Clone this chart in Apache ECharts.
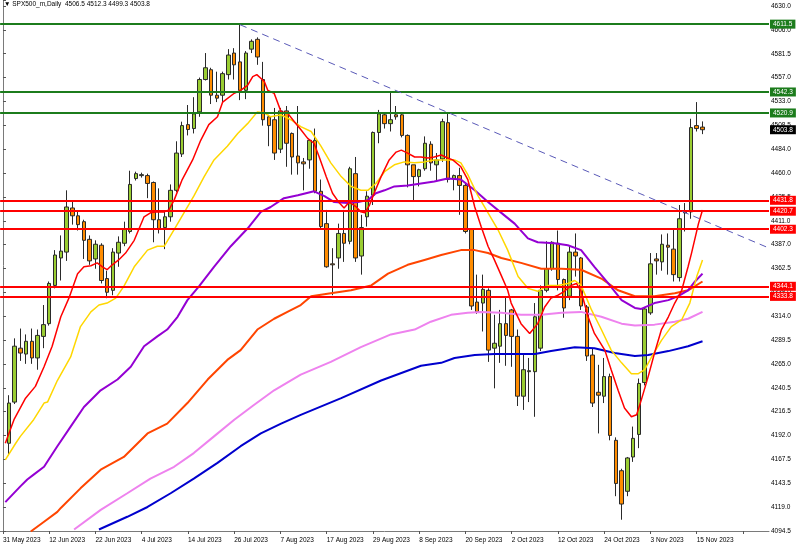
<!DOCTYPE html>
<html><head><meta charset="utf-8">
<script src="https://cdn.jsdelivr.net/npm/echarts@6/dist/echarts.min.js"></script>
<style>html,body{margin:0;padding:0;background:#fff}#c{width:802px;height:558px}</style>
</head><body><div id="c"></div>
<script>
// ---------- data ----------
const symbolName = 'SPX500_m,Daily';
const monthDays = [
  ['May', [31]],
  ['Jun', [1,2,5,6,7,8,9,12,13,14,15,16,19,20,21,22,23,26,27,28,29,30]],
  ['Jul', [3,4,5,6,7,10,11,12,13,14,17,18,19,20,21,24,25,26,27,28,31]],
  ['Aug', [1,2,3,4,7,8,9,10,11,14,15,16,17,18,21,22,23,24,25,28,29,30,31]],
  ['Sep', [1,4,5,6,7,8,11,12,13,14,15,18,19,20,21,22,25,26,27,28,29]],
  ['Oct', [2,3,4,5,6,9,10,11,12,13,16,17,18,19,20,23,24,25,26,27,30,31]],
  ['Nov', [1,2,3,6,7,8,9,10,13,14,15,16]]
];
const futureSlots = 11;

const open = [null,
 4184,4226,4281,4275,4288,4271,4293,4306,4345,4373,4379,4424,4416,4410,4392,4372,4386,4352,4340,4378,4388,4400,
 4454,4457,4457,4450,4412,4404,4415,4442,4479,4509,4505,4522,4555,4565,4539,4539,4560,4582,4573,4544,4586,
 4596,4555,4517,4514,4484,4523,4500,4477,4471,4473,4493,4441,4408,4367,4373,4398,4390,4459,4375,4415,4437,4501,4519,
 4510,4519,4519,4498,4468,4456,4464,4489,4468,4474,4511,4454,4457,4447,4402,4328,4327,4340,4281,4283,4306,
 4320,4293,4232,4257,4257,4281,4340,4362,4388,4351,4334,4379,4373,4323,4274,4236,4232,4252,4187,4156,4135,4170,
 4193,4246,4317,4372,4369,4386,4382,4353,4420,4420,4508,4506.5];
const close = [null,
 4225,4283,4276,4288,4271,4294,4305,4347,4376,4380,4425,4416,4407,4391,4370,4387,4350,4338,4379,4389,4402,4448,
 4459,4458,4449,4412,4403,4415,4442,4480,4508,4504,4520,4555,4567,4539,4536,4561,4580,4570,4544,4582,4594,
 4578,4514,4508,4480,4523,4490,4476,4470,4469,4493,4441,4405,4364,4366,4398,4388,4464,4373,4404,4436,4501,4520,4510,
 4514,4517,4498,4468,4456,4463,4490,4470,4473,4512,4453,4457,4447,4400,4324,4318,4341,4279,4286,4306,4294,
 4293,4232,4259,4258,4313,4340,4362,4389,4351,4322,4379,4375,4324,4273,4225,4233,4252,4192,4143,4122,4169,4189,
 4245,4321,4367,4370,4387,4384,4356,4413,4419,4506,4505,4503.8];
const low = [null,
 4173,4224,4268,4265,4265,4259,4281,4304,4342,4350,4370,4407,4401,4372,4366,4362,4347,4332,4335,4364,4385,4398,
 4452,4455,4434,4389,4398,4382,4410,4440,4476,4498,4500,4517,4554,4530,4532,4531,4555,4555,4534,4535,4582,
 4570,4508,4487,4473,4480,4466,4458,4458,4442,4464,4439,4403,4363,4335,4362,4369,4387,4369,4356,4405,4427,4490,4505,
 4502,4514,4496,4445,4432,4446,4462,4462,4451,4471,4450,4442,4417,4398,4320,4316,4298,4267,4240,4266,4263,
 4262,4222,4218,4226,4211,4278,4338,4360,4340,4312,4330,4354,4320,4268,4221,4194,4225,4187,4130,4106,4130,4165,
 4179,4243,4315,4356,4360,4356,4349,4349,4400,4413,4502,4499.3];
const high = [null,
 4233,4291,4301,4295,4301,4300,4325,4349,4381,4396,4442,4432,4421,4412,4396,4391,4388,4360,4383,4395,4410,4462,
 4461,4460,4459,4451,4444,4420,4448,4492,4512,4529,4537,4557,4582,4567,4563,4563,4586,4587,4611,4584,4596,
 4598,4573,4519,4526,4526,4528,4501,4528,4475,4494,4505,4453,4422,4383,4408,4422,4466,4476,4417,4441,4502,4524,4521,
 4543,4528,4520,4499,4468,4464,4497,4492,4480,4515,4520,4458,4465,4450,4403,4356,4356,4342,4315,4320,4334,
 4321,4300,4276,4271,4327,4345,4390,4390,4401,4352,4386,4398,4374,4325,4281,4264,4271,4255,4190,4158,4170,4201,
 4250,4323,4378,4378,4397,4398,4403,4427,4429,4515,4532,4512.3];

// moving averages: [bar index, value]
const maRed = [[0.4,4184],[1.9,4208],[3.9,4230],[5.6,4242],[7.1,4262],[8.5,4283],[10,4313],[11.4,4332],[12.9,4357],[14,4364],[15.2,4365],[16.3,4368],[17.2,4364],[18,4361],[18.9,4366],[20,4371],[21.2,4378],[22.7,4391],[24.4,4415],[25.5,4419],[26.7,4420],[27.9,4420],[28.7,4422],[29.6,4432],[31,4453],[32.8,4473],[34.2,4493],[35.6,4509],[37.1,4517],[38,4532],[40,4541],[41.1,4544],[42.3,4549],[43.2,4558],[43.9,4560],[45.2,4553],[45.8,4544],[46.9,4541],[48.1,4522],[49.2,4521],[50.4,4512],[51.5,4504],[52.7,4495],[53.8,4490],[54.7,4476],[55.9,4456],[57,4439],[58.2,4429],[59,4424],[59.9,4430],[61.1,4425],[61.9,4420],[62.6,4419],[63.4,4427],[64.2,4439],[65.4,4456],[66.8,4473],[68,4481],[68.9,4483],[70,4480],[71.2,4476],[72.3,4476],[73.5,4475],[74.6,4476],[75.8,4478],[76.9,4475],[77.8,4473],[79.2,4466],[80.4,4453],[81.6,4425],[82.7,4405],[83.9,4385],[85,4371],[86.2,4355],[87.3,4340],[87.9,4327],[89.6,4306],[91.1,4296],[92.5,4306],[93.7,4323],[94.8,4332],[96,4335],[97.1,4339],[98.3,4345],[99.2,4347],[100,4339],[101.2,4313],[102.3,4296],[104.1,4279],[105.2,4259],[106.4,4238],[107.5,4220],[108.7,4211],[109.6,4213],[110.4,4228],[111.6,4252],[112.7,4276],[113.9,4300],[115.1,4313],[116.2,4327],[117.4,4340],[118.5,4364],[119.1,4378],[120.3,4408],[121,4422]];
const maGold = [[0.4,4167],[2.2,4184],[3,4191],[5.3,4208],[7.1,4225],[7.7,4226],[9.4,4248],[11.7,4272],[13.4,4303],[15.2,4318],[16.6,4325],[18,4327],[19.5,4332],[20.9,4344],[22.7,4364],[25,4381],[26.7,4385],[27.9,4385],[29.6,4402],[31.3,4419],[33,4436],[34.8,4456],[36.5,4473],[38.8,4487],[40.6,4500],[42.3,4510],[44,4522],[45.2,4521],[46.3,4517],[48.1,4519],[49.8,4514],[51.5,4507],[53.3,4502],[55,4487],[56.7,4470],[58.5,4456],[60.2,4446],[61.9,4442],[63.1,4442],[64.5,4449],[66,4461],[67.7,4468],[69.4,4471],[71.2,4470],[72.9,4471],[74.6,4473],[76.4,4473],[78.1,4473],[79.2,4470],[80.4,4458],[82.1,4437],[83.9,4419],[85.6,4402],[87.3,4381],[89.1,4354],[90.8,4342],[92.5,4339],[94.3,4345],[96,4345],[97.7,4347],[98.9,4350],[100,4345],[101.8,4320],[103.5,4300],[105.2,4279],[107,4266],[108.7,4255],[109.9,4255],[111,4259],[112.2,4272],[113.9,4289],[115.6,4303],[117.4,4310],[118.8,4327],[120,4354],[121,4371]];
const maPurple = [[0.4,4124],[3,4140],[4.2,4147],[5.3,4152],[7.1,4160],[9.4,4181],[11.7,4201],[14,4221],[16.9,4238],[19.8,4249],[22.1,4262],[24.4,4283],[26.7,4293],[28.4,4300],[30.2,4313],[31.9,4330],[33.9,4344],[36.5,4364],[39.4,4385],[42.3,4403],[44.6,4420],[46.3,4425],[48.6,4434],[51,4437],[53.8,4441],[55.6,4436],[57.3,4430],[59.6,4429],[61.4,4430],[63.1,4432],[64.5,4439],[66,4442],[67.7,4446],[70,4447],[72.3,4449],[74.6,4451],[76.9,4454],[79.2,4453],[81.6,4442],[83.9,4430],[86.2,4419],[88.5,4408],[90.8,4393],[92.5,4389],[95.4,4388],[97.7,4386],[100,4381],[102.3,4364],[104.7,4347],[107,4330],[109.3,4322],[110.4,4321],[112.7,4327],[115.1,4330],[116.8,4334],[118.5,4340],[119.7,4349],[121,4357]];
const maOrangeRed = [[4.8,4094],[7.1,4104],[9.4,4114],[10,4118],[13.4,4138],[16.9,4157],[20.9,4170],[25,4194],[28.4,4204],[31.9,4225],[35.4,4249],[38.8,4269],[41.1,4279],[44,4300],[46.9,4311],[49.2,4318],[51.5,4325],[53.3,4334],[56.7,4337],[60.2,4340],[63.7,4345],[66.6,4357],[70,4366],[72.9,4371],[75.8,4376],[79.2,4381],[81.6,4381],[83.9,4378],[86.2,4373],[89.6,4368],[93.1,4362],[96.6,4362],[100,4361],[103.5,4352],[106.4,4340],[109.3,4334],[112.7,4334],[116.2,4337],[118.5,4340],[121,4349]];
const maViolet = [[12.3,4096],[16.9,4116],[21.5,4133],[25.5,4148],[29.6,4160],[33,4174],[36.5,4191],[40,4208],[43.4,4223],[46.9,4238],[51.5,4254],[56.7,4267],[61.9,4282],[67.1,4295],[71.2,4300],[74,4308],[77.5,4315],[80.4,4317],[82.7,4318],[86.2,4317],[89.6,4315],[93.1,4315],[96.6,4317],[100,4318],[103.5,4313],[107,4306],[109.3,4304],[112.7,4305],[116.2,4308],[118.5,4311],[121,4318]];
const maBlue = [[16.6,4096],[21.5,4109],[25,4119],[29,4133],[33,4148],[37.1,4164],[41.1,4181],[44.6,4194],[48.1,4204],[51.5,4213],[58.5,4230],[65.4,4248],[72.3,4263],[75.8,4266],[78.1,4271],[81.6,4274],[85,4275],[88.5,4275],[92,4275],[94.8,4278],[98.9,4282],[102.3,4281],[105.8,4276],[109.3,4273],[111.6,4274],[115.1,4278],[118.5,4283],[121,4288]];

const trendLine = [[41, 4610.9], [132.5, 4383.1]];
const greenLevels = [4611.5, 4542.3, 4520.9];
const redLevels = [4431.8, 4420.7, 4402.3, 4344.1, 4333.8];

const yTickLabels = ['4094.5','4119.0','4143.5','4167.5','4192.0','4216.5','4240.5','4265.0','4289.5','4314.0','4338.0','4362.5','4387.0','4411.0','4435.5','4460.0','4484.0','4508.5','4533.0','4557.0','4581.5','4606.0','4630.0'];
const yMin = 4094.5, yTop = 4630.0, yMax = 4636.12;

// ---------- build ----------
const dates = [];
monthDays.forEach(([m, ds]) => ds.forEach(d => dates.push(d + ' ' + m + ' 2023')));
const N = dates.length + futureSlots;
const cats = dates.slice();
for (let k = 0; k < futureSlots; k++) cats.push('f' + k);
const ohlc = open.map((o, i) => o == null ? '-' : [o, close[i], low[i], high[i]]);
const last = open.length - 1;
const yStep = (yTop - yMin) / (yTickLabels.length - 1);
const FONT = 'Liberation Sans, Arial, DejaVu Sans, sans-serif';

function maSeries(name, data, color, width) {
  return { name, type: 'line', xAxisIndex: 1, data, showSymbol: false, symbol: 'none', silent: true,
    lineStyle: { color, width }, z: 4, animation: false };
}
const levelData = [];
greenLevels.forEach(v => levelData.push({ yAxis: v, lineStyle: { color: '#1c7c1c', width: 2, type: 'solid' },
  label: { backgroundColor: '#1c7c1c' } }));
redLevels.forEach(v => levelData.push({ yAxis: v, lineStyle: { color: '#ff0000', width: 2, type: 'solid' },
  label: { backgroundColor: '#ff0000' } }));
levelData.push({ yAxis: close[last], lineStyle: { color: 'rgba(0,0,0,0)', width: 0 },
  label: { backgroundColor: '#000000' } });

const chart = echarts.init(document.getElementById('c'), null, { renderer: 'canvas' });
chart.setOption({
  animation: false,
  backgroundColor: '#ffffff',
  title: {
    text: '\u25BC ' + symbolName + '  ' + [open[last], high[last], low[last], close[last]].map(v => v.toFixed(1)).join(' '),
    left: 4, top: 1, padding: 0,
    textStyle: { fontSize: 6.5, fontWeight: 'normal', color: '#000', fontFamily: FONT }
  },
  grid: { left: 0, right: 33, top: 0, bottom: 27, containLabel: false },
  xAxis: [{
    type: 'category', data: cats, boundaryGap: true,
    axisLine: { show: true, lineStyle: { color: '#7a7a7a', width: 1 } },
    axisTick: { show: true, interval: 7, alignWithLabel: true, length: 3, lineStyle: { color: '#555' } },
    axisLabel: { interval: 7, align: 'left', margin: 6, fontSize: 6.5, color: '#000', fontFamily: FONT,
      formatter: (v, i) => (i < dates.length ? v : '') },
    splitLine: { show: false }
  }, {
    type: 'value', min: -0.5, max: N - 0.5, show: false, gridIndex: 0
  }],
  yAxis: {
    type: 'value', position: 'right', min: yMin, max: yMax, interval: yStep, scale: true,
    axisLine: { show: true, lineStyle: { color: '#7a7a7a', width: 1 } },
    axisTick: { show: true, length: 3, lineStyle: { color: '#555' } },
    axisLabel: { margin: 2, fontSize: 6.5, color: '#000', fontFamily: FONT,
      formatter: v => { const k = (v - yMin) / yStep; const r = Math.round(k);
        return Math.abs(k - r) < 0.02 && yTickLabels[r] ? yTickLabels[r] : ''; } },
    splitLine: { show: false }
  },
  series: [
    { name: 'candles', type: 'candlestick', data: ohlc, barWidth: 4, z: 3,
      itemStyle: { color: '#9acd32', color0: '#ff8c00', borderColor: '#2a2a2a', borderColor0: '#2a2a2a', borderWidth: 1 } },
    maSeries('MA200', maBlue, '#0000cd', 2),
    maSeries('MA150', maViolet, '#ee82ee', 2),
    maSeries('MA100', maOrangeRed, '#ff4500', 2),
    maSeries('MA50', maPurple, '#9400d3', 2),
    maSeries('MA21', maGold, '#ffd700', 1.5),
    maSeries('MA8', maRed, '#ff0000', 1.5),
    { name: 'trend', type: 'line', xAxisIndex: 1, data: trendLine, showSymbol: false, symbol: 'none', silent: true,
      lineStyle: { color: '#5a5ab8', width: 1, type: [7, 5] }, z: 5 },
    { name: 'levels', type: 'line', data: [], z: 6, silent: true,
      markLine: { symbol: 'none', silent: true, animation: false, data: levelData,
        label: { show: true, position: 'end', distance: 1, color: '#fff', fontSize: 6.5, fontFamily: FONT,
          padding: [1, 3, 0, 3], lineHeight: 8, formatter: p => Number(p.value).toFixed(1) } } }
  ]
});
</script></body></html>
